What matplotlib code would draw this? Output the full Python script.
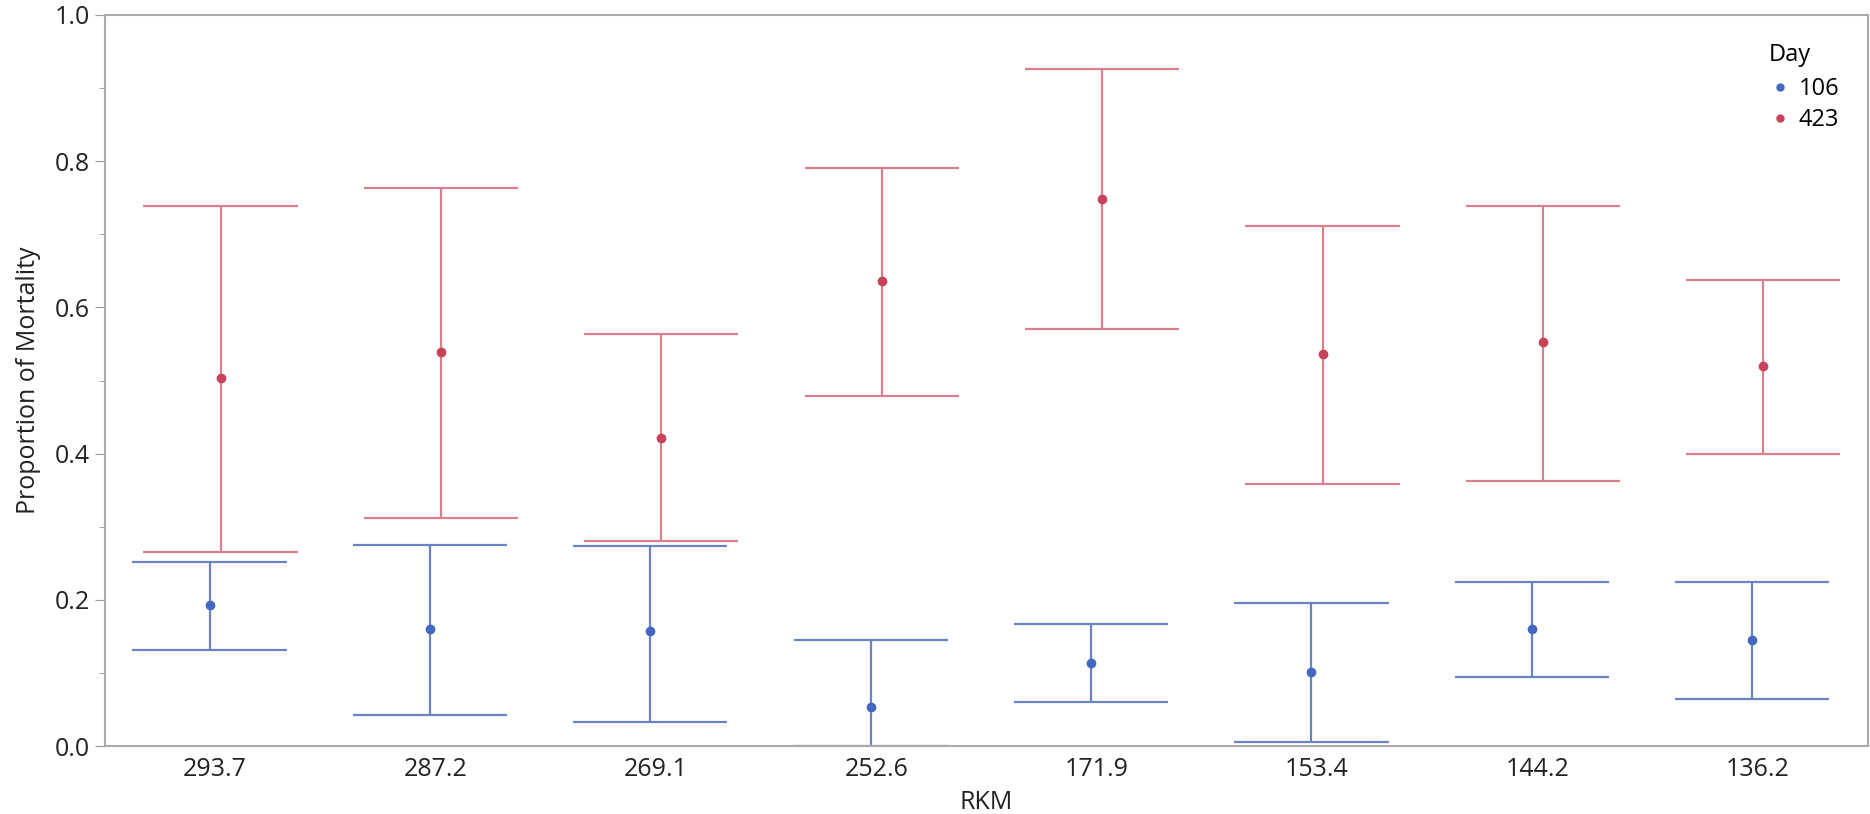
import numpy as np
import matplotlib.pyplot as plt
from matplotlib.lines import Line2D

plt.rcParams['font.family'] = ['Open Sans', 'DejaVu Sans']

# RKM sites, in plotting order
rkm = ['293.7', '287.2', '269.1', '252.6', '171.9', '153.4', '144.2', '136.2']

# Day 106 proportion of mortality with lower / upper limits
d106_mean = [0.193, 0.160, 0.157, 0.054, 0.114, 0.101, 0.160, 0.145]
d106_low = [0.132, 0.042, 0.033, 0.000, 0.060, 0.005, 0.095, 0.065]
d106_high = [0.252, 0.275, 0.273, 0.145, 0.167, 0.196, 0.224, 0.225]

# Day 423 proportion of mortality with lower / upper limits
d423_mean = [0.503, 0.539, 0.422, 0.636, 0.748, 0.536, 0.552, 0.520]
d423_low = [0.266, 0.312, 0.281, 0.479, 0.570, 0.358, 0.363, 0.399]
d423_high = [0.739, 0.763, 0.564, 0.791, 0.926, 0.712, 0.739, 0.637]

blue_line, blue_pt = '#6a84c2', '#4467c0'
red_line, red_pt = '#d9808e', '#c8435a'

fig = plt.figure(figsize=(18.7, 8.14), dpi=100)
ax = fig.add_axes([0.0561, 0.0835, 0.9428, 0.8981])

x = np.arange(len(rkm))
half_cap = 0.35
series = [
    (x - 0.025, d106_mean, d106_low, d106_high, blue_line, blue_pt),
    (x + 0.025, d423_mean, d423_low, d423_high, red_line, red_pt),
]
for xs, mean, low, high, lc, pc in series:
    ax.vlines(xs, low, high, color=lc, lw=1.6)
    ax.hlines(low, xs - half_cap, xs + half_cap, color=lc, lw=1.6)
    ax.hlines(high, xs - half_cap, xs + half_cap, color=lc, lw=1.6)
    ax.plot(xs, mean, 'o', color=pc, ms=6, zorder=3)

ax.set_xlim(-0.5, len(rkm) - 0.5)
ax.set_ylim(0, 1.0)
ax.set_xticks(x)
ax.set_xticklabels(rkm)
ax.set_yticks(np.arange(0, 1.01, 0.2))
ax.set_yticks(np.arange(0.1, 1.0, 0.2), minor=True)
ax.yaxis.set_major_formatter(plt.FormatStrFormatter('%.1f'))
ax.tick_params(axis='x', length=0, labelsize=18, pad=8, colors='#222222')
ax.tick_params(axis='y', which='major', length=7, labelsize=18, colors='#999999', labelcolor='#222222')
ax.tick_params(axis='y', which='minor', length=4, colors='#999999')
for s in ax.spines.values():
    s.set_color('#aaaaaa')
    s.set_linewidth(1.5)

ax.set_xlabel('RKM', fontsize=18, color='#222222', labelpad=6)
ax.set_ylabel('Proportion of Mortality', fontsize=18, color='#222222', labelpad=10)

handles = [
    Line2D([], [], marker='o', ls='', color=blue_pt, ms=5, label='106'),
    Line2D([], [], marker='o', ls='', color=red_pt, ms=5, label='423'),
]
leg = ax.legend(handles=handles, title='Day', loc='upper right', frameon=False,
                fontsize=17, title_fontsize=17, handletextpad=0.3,
                handlelength=1.0, labelspacing=0.3, borderaxespad=0.8)
leg._legend_box.align = 'left'
leg._legend_box.sep = 7

fig.savefig('out.png', dpi=100)
